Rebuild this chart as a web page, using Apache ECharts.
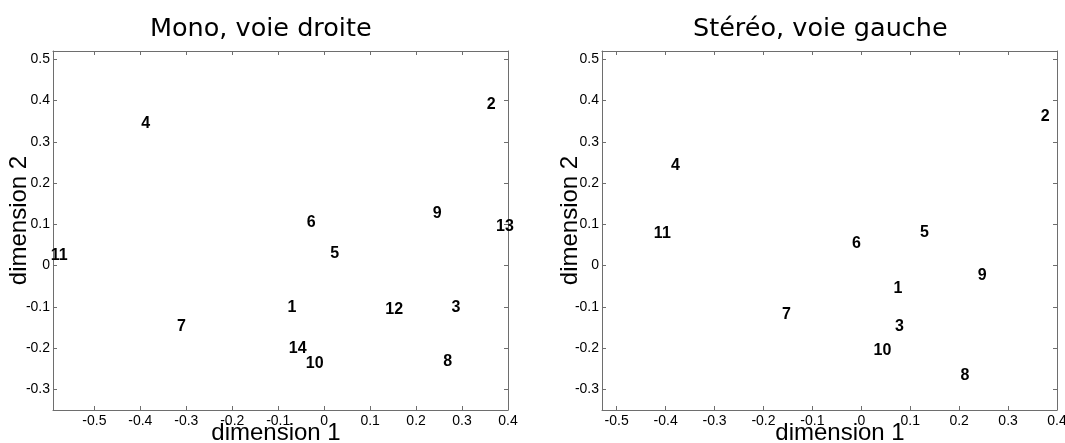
<!DOCTYPE html>
<html>
<head>
<meta charset="utf-8">
<script src="https://cdn.jsdelivr.net/npm/echarts@6/dist/echarts.min.js"></script>
<style>
html,body{margin:0;padding:0;background:#fff;}
#c{width:1065px;height:443px;}
</style>
</head>
<body>
<div id="c"></div>
<script>
// ---- data ----
var monoLabels = ['1','2','3','4','5','6','7','8','9','10','11','12','13','14'];
var monoX = [-0.080, 0.354, 0.277, -0.398, 0.013, -0.038, -0.320, 0.259, 0.236, -0.040, -0.595, 0.133, 0.374, -0.077];
var monoY = [-0.101, 0.391, -0.103, 0.343, 0.030, 0.105, -0.147, -0.232, 0.127, -0.238, 0.024, -0.107, 0.095, -0.200];

var stereoLabels = ['1','2','3','4','5','6','7','8','9','10','11'];
var stereoX = [0.066, 0.367, 0.069, -0.389, 0.120, -0.019, -0.162, 0.203, 0.238, 0.025, -0.424];
var stereoY = [-0.055, 0.362, -0.149, 0.243, 0.079, 0.053, -0.119, -0.266, -0.024, -0.206, 0.077];

var xTicks = [-0.5, -0.4, -0.3, -0.2, -0.1, 0, 0.1, 0.2, 0.3, 0.4];
var yTicks = [-0.3, -0.2, -0.1, 0, 0.1, 0.2, 0.3, 0.4, 0.5];

var titles = ['Mono, voie droite', 'Stéréo, voie gauche'];
var xName = 'dimension 1';
var yName = 'dimension 2';

// ---- chart ----
var axisColor = '#6e6e6e';
function fmt(v){ return String(Math.round(v*10)/10); }

function mainX(gi, min, max, pad){
  return {
    type:'value', gridIndex:gi, min:min, max:max, position:'bottom',
    name:xName, nameLocation:'middle', nameGap:11, nameMoveOverlap:false,
    nameTextStyle:{fontFamily:'Liberation Sans', fontSize:24, color:'#000', padding:pad},
    axisLine:{onZero:false, lineStyle:{color:axisColor, width:1}},
    axisTick:{inside:true, length:4, customValues:xTicks, lineStyle:{color:axisColor}},
    axisLabel:{customValues:xTicks, formatter:fmt, fontFamily:'Liberation Sans', fontSize:14, color:'#000', margin:4},
    splitLine:{show:false}
  };
}
function topX(gi, min, max){
  return {
    type:'value', gridIndex:gi, min:min, max:max, position:'top',
    axisLine:{onZero:false, lineStyle:{color:axisColor, width:1}},
    axisTick:{inside:true, length:4, customValues:xTicks, lineStyle:{color:axisColor}},
    axisLabel:{show:false}, splitLine:{show:false}
  };
}
function mainY(gi, min, max, gap){
  return {
    type:'value', gridIndex:gi, min:min, max:max, position:'left',
    name:yName, nameLocation:'middle', nameGap:gap, nameRotate:90, nameMoveOverlap:false,
    nameTextStyle:{fontFamily:'Liberation Sans', fontSize:24, color:'#000', padding:[0,0,0,20]},
    axisLine:{onZero:false, lineStyle:{color:axisColor, width:1}},
    axisTick:{inside:true, length:4, customValues:yTicks, lineStyle:{color:axisColor}},
    axisLabel:{customValues:yTicks, formatter:fmt, fontFamily:'Liberation Sans', fontSize:14, color:'#000', margin:3},
    splitLine:{show:false}
  };
}
function rightY(gi, min, max){
  return {
    type:'value', gridIndex:gi, min:min, max:max, position:'right',
    axisLine:{onZero:false, lineStyle:{color:axisColor, width:1}},
    axisTick:{inside:true, length:4, customValues:yTicks, lineStyle:{color:axisColor}},
    axisLabel:{show:false}, splitLine:{show:false}
  };
}
function pts(xs, ys, ls){
  return xs.map(function(x,i){ return {value:[x, ys[i]], name:ls[i]}; });
}
function series(xi, yi, xs, ys, ls){
  return {
    type:'scatter', xAxisIndex:xi, yAxisIndex:yi, clip:false,
    symbol:'circle', symbolSize:0, itemStyle:{color:'#000', opacity:1},
    data:pts(xs, ys, ls),
    label:{show:true, position:'right', distance:0, formatter:'{b}',
      fontFamily:'Liberation Sans', fontWeight:'bold', fontSize:16, color:'#000', verticalAlign:'middle'},
    emphasis:{disabled:true}, silent:true, animation:false
  };
}

var chart = echarts.init(document.getElementById('c'), null, {renderer:'canvas'});
chart.setOption({
  backgroundColor:'#fff',
  animation:false,
  title:[
    {text:titles[0], left:150, top:16, padding:0, textStyle:{fontFamily:'DejaVu Sans', fontWeight:'normal', fontSize:25.5, color:'#000'}},
    {text:titles[1], left:693, top:16, padding:0, textStyle:{fontFamily:'DejaVu Sans', fontWeight:'normal', fontSize:25.5, color:'#000'}}
  ],
  grid:[
    {left:53, top:51, width:455, height:359, outerBoundsMode:'none', containLabel:false},
    {left:602, top:51, width:455, height:359, outerBoundsMode:'none', containLabel:false}
  ],
  xAxis:[ mainX(0,-0.59,0.4,[0,9,0,0]), topX(0,-0.59,0.4), mainX(1,-0.53,0.4,[0,0,0,21]), topX(1,-0.53,0.4) ],
  yAxis:[ mainY(0,-0.35,0.52,22), rightY(0,-0.35,0.52), mainY(1,-0.35,0.52,20), rightY(1,-0.35,0.52) ],
  series:[
    series(0, 0, monoX, monoY, monoLabels),
    series(2, 2, stereoX, stereoY, stereoLabels)
  ]
});
</script>
</body>
</html>
